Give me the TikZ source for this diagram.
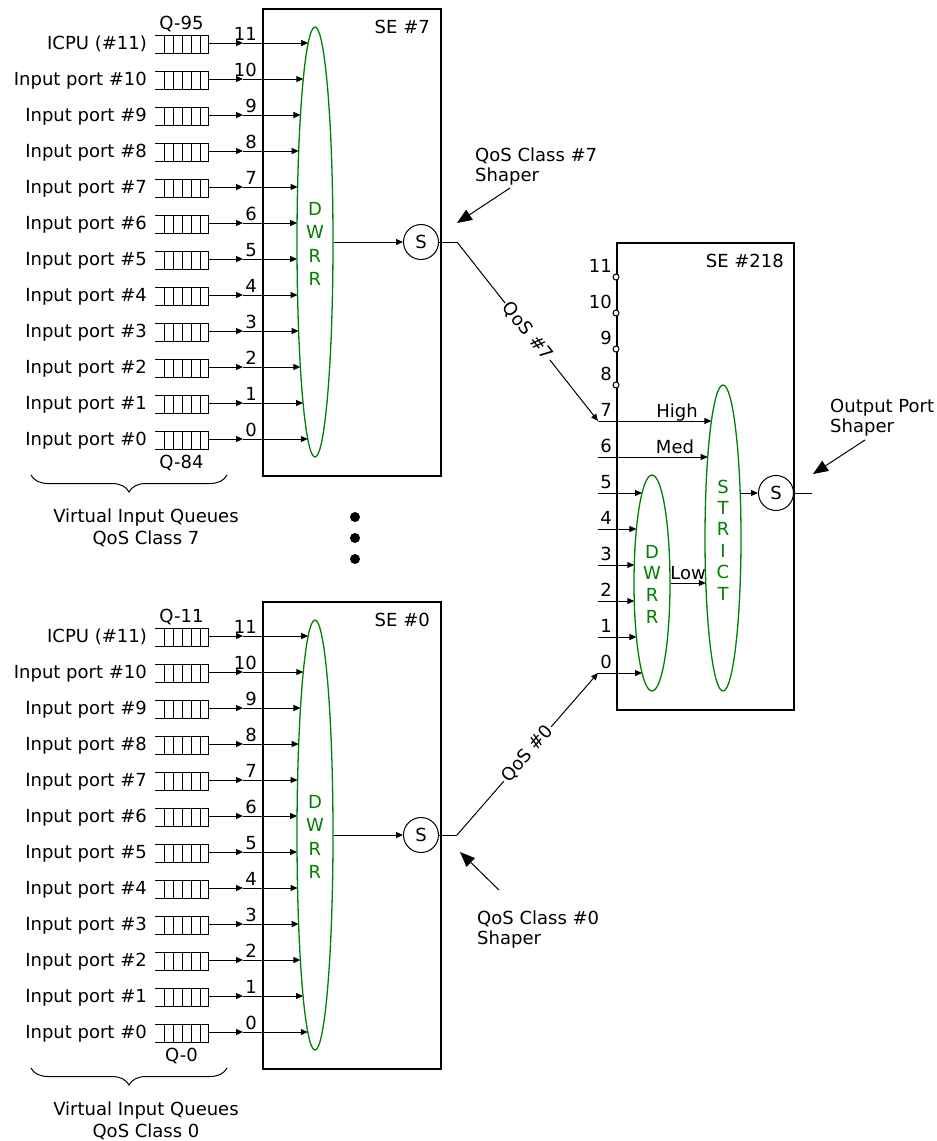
\documentclass[tikz,border=0pt]{standalone}
\usepackage{fontspec}
\setmainfont{DejaVu Sans}
\usetikzlibrary{arrows.meta,shapes.geometric,decorations.pathreplacing}
\definecolor{grn}{RGB}{0,128,0}
\tikzset{
  lbl/.style={font=\fontsize{18}{20}\selectfont, inner sep=0pt},
  sebox/.style={draw, line width=2pt, inner sep=0pt},
  sched/.style={ellipse, draw=grn, line width=1.3pt, inner sep=0pt},
  schedtxt/.style={text=grn, align=center, inner sep=0pt},
  conn/.style={line width=1pt, -{Triangle[length=7pt,width=6pt]}},
  plainline/.style={line width=1pt},
  callarrow/.style={line width=1pt, -{Triangle[length=15pt,width=12pt]}},
  shaper/.style={circle, draw, line width=1pt, minimum size=35pt, inner sep=0pt, font=\fontsize{18}{20}\selectfont},
  portdot/.style={circle, draw, fill=white, line width=1pt, minimum size=6pt, inner sep=0pt},
  bigdot/.style={circle, fill, minimum size=10pt, inner sep=0pt},
  qline/.style={line width=1pt},
  brace/.style={decorate, decoration={brace, mirror, amplitude=17pt}, line width=1pt},
  slopelbl/.style={sloped, fill=white, inner sep=1.5pt, font=\fontsize{18}{20}\selectfont}
}
\newcommand\SchedBlock[6]{%
  \begin{scope}[shift={(0,#1)}]
    \node[sebox, minimum width=178pt, minimum height=467pt, anchor=north west] (#2box) at (262,8) {};
    \node[lbl, anchor=base east] (#2se) at (430,33) {#5};
    \node[sched, minimum width=36pt, minimum height=430pt] (#2ell) at (315,242) {};
    \node[schedtxt, font=\fontsize{18}{23.5}\selectfont] (#2txt) at (315,244) {D\\W\\R\\R};
    \node[shaper] (#2s) at (421,242) {S};
    \draw[conn] (#2ell.east) -- (#2s.west);
    \coordinate (#2out) at (457,242);
    \draw[plainline] (#2s.east) -- (#2out);
    \foreach \i in {0,...,11} {
      \pgfmathsetmacro\y{43+(11-\i)*36}
      \pgfmathsetmacro\ex{315-18*sqrt(1-((\y-242)/215)^2)}
      \draw[qline] (155,\y-8) -- (208,\y-8) -- (208,\y+10) -- (155,\y+10);
      \foreach \xx in {164,173,182,191,200} {\draw[qline] (\xx,\y-8) -- (\xx,\y+10);}
      \coordinate (#2q\i) at (208,\y);
      \coordinate (#2m\i) at (243,\y);
      \coordinate (#2e\i) at (\ex,\y);
      \draw[conn] (#2q\i) -- (#2m\i);
      \draw[conn] (#2m\i) -- (#2e\i);
      \node[lbl, anchor=base east] (#2n\i) at (257,\y-3) {\i};
      \node[lbl, anchor=base east] (#2l\i) at (147,\y+6.5) {\ifnum\i=11 ICPU (\#11)\else Input port \#\i\fi};
    }
    \node[lbl, anchor=base] (#2qt) at (181.5,29) {#3};
    \node[lbl, anchor=base] (#2qb) at (181.5,468) {#4};
    \coordinate (#2bl) at (31,475);
    \coordinate (#2br) at (227,475);
    \draw[brace] (#2bl) -- (#2br);
    \node[lbl, align=center, font=\fontsize{18}{22}\selectfont] (#2vq) at (146,528) {Virtual Input Queues\\QoS Class #6};
  \end{scope}
}
\begin{document}
\begin{tikzpicture}[x=1pt,y=-1pt]
\useasboundingbox[fill=white] (0,0) rectangle (937,1141);

\SchedBlock{0}{a}{Q-95}{Q-84}{SE \#7}{7}
\SchedBlock{593}{b}{Q-11}{Q-0}{SE \#0}{0}

% dots
\node[bigdot] (d1) at (355,517) {};
\node[bigdot] (d2) at (355,538) {};
\node[bigdot] (d3) at (355,559) {};

% SE #218
\node[sebox, minimum width=177pt, minimum height=467pt, anchor=north west] (c) at (616,242) {};
\node[lbl, anchor=base east] (cse) at (784,267) {SE \#218};
\node[sched, minimum width=36pt, minimum height=216pt] (cd) at (652,583) {};
\node[schedtxt, font=\fontsize{18}{21.7}\selectfont] (cdt) at (652,584) {D\\W\\R\\R};
\node[sched, minimum width=36pt, minimum height=306pt] (cs) at (723,538) {};
\node[schedtxt, font=\fontsize{18}{21.4}\selectfont] (cst) at (723,540) {S\\T\\R\\I\\C\\T};
\node[shaper] (co) at (776,493) {S};

\foreach \i/\y in {11/277,10/313,9/349,8/385} {
  \node[portdot] (cp\i) at (616,\y) {};
  \node[lbl, anchor=base east] (cn\i) at (612,\y-5) {\i};
}
\foreach \i/\y in {7/421,6/457} {
  \pgfmathsetmacro\ex{723-18*sqrt(1-((\y-538)/153)^2)}
  \coordinate (cin\i) at (598,\y);
  \coordinate (cie\i) at (\ex,\y);
  \draw[conn] (cin\i) -- (cie\i);
  \node[lbl, anchor=base east] (cn\i) at (612,\y-5) {\i};
}
\foreach \i in {5,...,0} {
  \pgfmathsetmacro\y{493+(5-\i)*36}
  \pgfmathsetmacro\ex{652-18*sqrt(1-((\y-583)/108)^2)}
  \coordinate (cin\i) at (598,\y);
  \coordinate (cie\i) at (\ex,\y);
  \draw[conn] (cin\i) -- (cie\i);
  \node[lbl, anchor=base east] (cn\i) at (612,\y-5) {\i};
}
\node[lbl, anchor=base] (high) at (677,417) {High};
\node[lbl, anchor=base] (med) at (675,453) {Med};
\coordinate (lowend) at (705.8,583);
\draw[conn] (cd.east) -- (lowend);
\node[lbl, anchor=base] (low) at (688,579) {Low};
\coordinate (strictout) at (740.2,493);
\draw[conn] (strictout) -- (co.west);
\coordinate (portout) at (812,493);
\draw[plainline] (co.east) -- (portout);

% inter-block connectors
\draw[conn] (aout) -- node[slopelbl] (q7lbl) {QoS \#7} (cin7);
\draw[conn] (bout) -- node[slopelbl] (q0lbl) {QoS \#0} (cin0);

% callouts
\node[lbl, anchor=north west, align=left] (call7) at (475,148) {QoS Class \#7\\Shaper};
\coordinate (call7a) at (510,188);
\coordinate (call7b) at (457,223);
\draw[callarrow] (call7a) -- (call7b);

\node[lbl, anchor=north west, align=left] (call0) at (477,911) {QoS Class \#0\\Shaper};
\coordinate (call0a) at (499,890);
\coordinate (call0b) at (460,852);
\draw[callarrow] (call0a) -- (call0b);

\node[lbl, anchor=north west, align=left] (callo) at (830,399) {Output Port\\Shaper};
\coordinate (calloa) at (865,440);
\coordinate (callob) at (813,474);
\draw[callarrow] (calloa) -- (callob);
\end{tikzpicture}
\end{document}
